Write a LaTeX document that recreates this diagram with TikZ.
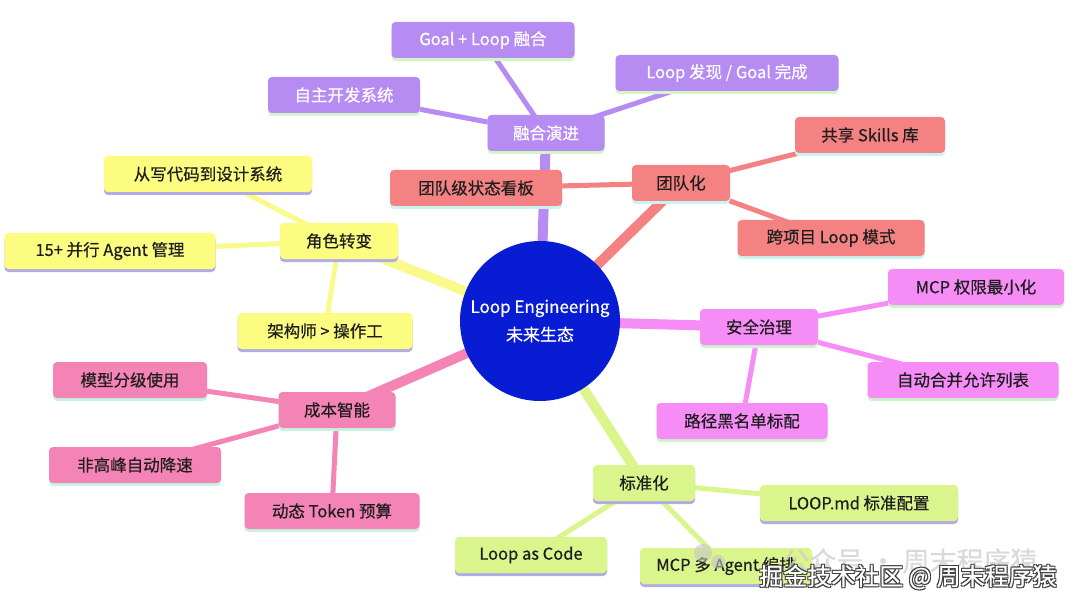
\documentclass[tikz,border=0pt]{standalone}
\usepackage{fontspec}
\setmainfont{Noto Sans CJK SC}[FakeBold=0.5]
\definecolor{cblue}{RGB}{8,28,212}
\definecolor{purp}{RGB}{182,140,243}
\definecolor{purpsh}{RGB}{212,245,200}
\definecolor{salm}{RGB}{245,130,130}
\definecolor{salmsh}{RGB}{200,245,240}
\definecolor{ylw}{RGB}{252,252,128}
\definecolor{ylwln}{RGB}{250,250,140}
\definecolor{lav}{RGB}{178,172,228}
\definecolor{mag}{RGB}{246,140,246}
\definecolor{magsh}{RGB}{205,242,205}
\definecolor{pnk}{RGB}{245,132,182}
\definecolor{pnksh}{RGB}{200,242,225}
\definecolor{grn}{RGB}{218,245,140}
\definecolor{txt}{RGB}{30,30,30}
\tikzset{
  box/.style={rounded corners=4pt, minimum height=36pt, inner xsep=0pt, inner ysep=0pt,
    text=txt, font=\fontsize{16.5}{19}\selectfont},
  pbox/.style={box, fill=purp, text=white, preaction={fill=purpsh, transform canvas={yshift=-3pt}}},
  rbox/.style={box, fill=salm, preaction={fill=salmsh, transform canvas={yshift=-3pt}}},
  ybox/.style={box, fill=ylw, preaction={fill=lav, transform canvas={yshift=-3pt}}},
  mbox/.style={box, fill=mag, preaction={fill=magsh, transform canvas={yshift=-3pt}}},
  kbox/.style={box, fill=pnk, preaction={fill=pnksh, transform canvas={yshift=-3pt}}},
  gbox/.style={box, fill=grn, preaction={fill=lav, transform canvas={yshift=-3pt}}},
  mainln/.style={line width=10pt},
  subln/.style={line width=5pt},
  wm/.style={font=\fontsize{24}{28}\selectfont},
}
\begin{document}
\begin{tikzpicture}[x=1pt,y=-1pt]
\useasboundingbox[fill=white] (0,0) rectangle (1080,607);
\coordinate (cc) at (540,321);
\coordinate (p0) at (546,133);
\coordinate (p1) at (483,40);
\coordinate (p2) at (727,73);
\coordinate (p3) at (344,95);
\coordinate (r0) at (681,183);
\coordinate (r1) at (476,188);
\coordinate (r2) at (870,135);
\coordinate (r3) at (831,238);
\coordinate (y0) at (339,241);
\coordinate (y1) at (208,174);
\coordinate (y2) at (110,251);
\coordinate (y3) at (325,331);
\coordinate (m0) at (759,327);
\coordinate (m1) at (976,287);
\coordinate (m2) at (963,380);
\coordinate (m3) at (742,421);
\coordinate (k0) at (337,410);
\coordinate (k1) at (130,380);
\coordinate (k2) at (135,465);
\coordinate (k3) at (332,511);
\coordinate (g0) at (644,483);
\coordinate (g1) at (859,503);
\coordinate (g2) at (531,555);
\coordinate (g3) at (726,566);

% ---- connectors ----
\draw[mainln, purp] (cc) -- (p0);
\draw[subln, purp] (p0) -- (p1);
\draw[subln, purp] (p0) -- (p2);
\draw[subln, purp] (p0) -- (p3);
\draw[mainln, salm] (cc) -- (r0);
\draw[subln, salm] (r0) -- (r1);
\draw[subln, salm] (r0) -- (r2);
\draw[subln, salm] (r0) -- (r3);
\draw[mainln, ylwln] (cc) -- (y0);
\draw[subln, ylwln] (y0) -- (y1);
\draw[subln, ylwln] (y0) -- (y2);
\draw[subln, ylwln] (y0) -- (y3);
\draw[mainln, mag] (cc) -- (m0);
\draw[subln, mag] (m0) -- (m1);
\draw[subln, mag] (m0) -- (m2);
\draw[subln, mag] (m0) -- (m3);
\draw[mainln, pnk] (cc) -- (k0);
\draw[subln, pnk] (k0) -- (k1);
\draw[subln, pnk] (k0) -- (k2);
\draw[subln, pnk] (k0) -- (k3);
\draw[mainln, grn] (cc) -- (g0);
\draw[subln, grn] (g0) -- (g1);
\draw[subln, grn] (g0) -- (g2);
\draw[subln, grn] (g0) -- (g3);

% ---- center ----
\node[circle, fill=cblue, minimum size=160pt, inner sep=0pt, text=white, align=center,
  font=\fontsize{17}{28}\selectfont] (c) at (cc) {Loop Engineering\\未来生态};

% ---- purple ----
\node[pbox, minimum width=117pt] (n-p0) at (p0) {融合演进};
\node[pbox, minimum width=183pt] (n-p1) at (p1) {Goal + Loop 融合};
\node[pbox, minimum width=223pt] (n-p2) at (p2) {Loop 发现 / Goal 完成};
\node[pbox, minimum width=152pt] (n-p3) at (p3) {自主开发系统};
% ---- salmon ----
\node[rbox, minimum width=98pt] (n-r0) at (r0) {团队化};
\node[rbox, minimum width=172pt] (n-r1) at (r1) {团队级状态看板};
\node[rbox, minimum width=150pt] (n-r2) at (r2) {共享 Skills 库};
\node[rbox, minimum width=187pt] (n-r3) at (r3) {跨项目 Loop 模式};
% ---- yellow ----
\node[ybox, minimum width=118pt] (n-y0) at (y0) {角色转变};
\node[ybox, minimum width=208pt] (n-y1) at (y1) {从写代码到设计系统};
\node[ybox, minimum width=211pt] (n-y2) at (y2) {15+ 并行 Agent 管理};
\node[ybox, minimum width=175pt] (n-y3) at (y3) {架构师 > 操作工};
% ---- magenta ----
\node[mbox, minimum width=118pt] (n-m0) at (m0) {安全治理};
\node[mbox, minimum width=176pt] (n-m1) at (m1) {MCP 权限最小化};
\node[mbox, minimum width=191pt] (n-m2) at (m2) {自动合并允许列表};
\node[mbox, minimum width=171pt] (n-m3) at (m3) {路径黑名单标配};
% ---- pink ----
\node[kbox, minimum width=117pt] (n-k0) at (k0) {成本智能};
\node[kbox, minimum width=154pt] (n-k1) at (k1) {模型分级使用};
\node[kbox, minimum width=172pt] (n-k2) at (k2) {非高峰自动降速};
\node[kbox, minimum width=175pt] (n-k3) at (k3) {动态 Token 预算};
% ---- green ----
\node[gbox, minimum width=102pt] (n-g0) at (g0) {标准化};
\node[gbox, minimum width=198pt] (n-g1) at (g1) {LOOP.md 标准配置};
\node[gbox, minimum width=152pt] (n-g2) at (g2) {Loop as Code};
\node[gbox, minimum width=172pt] (n-g3) at (g3) {MCP 多 Agent 编排};

% ---- watermarks ----
\fill[gray!45, opacity=0.6] (703,553) circle (9pt);
\fill[gray!45, opacity=0.6] (718,562) circle (7pt);
\node[text=gray!40, opacity=0.7, font=\fontsize{27}{30}\selectfont] (w1) at (910,561) {公众号 · 周末程序猿};
\foreach \dx/\dy in {-1/-1,1/1,-1/1,1/-1}{
  \node[wm, text=black!75] at (908+\dx,577+\dy) {掘金技术社区 @ 周末程序猿};
}
\node[wm, text=white] (w2) at (908,577) {掘金技术社区 @ 周末程序猿};
\end{tikzpicture}
\end{document}
